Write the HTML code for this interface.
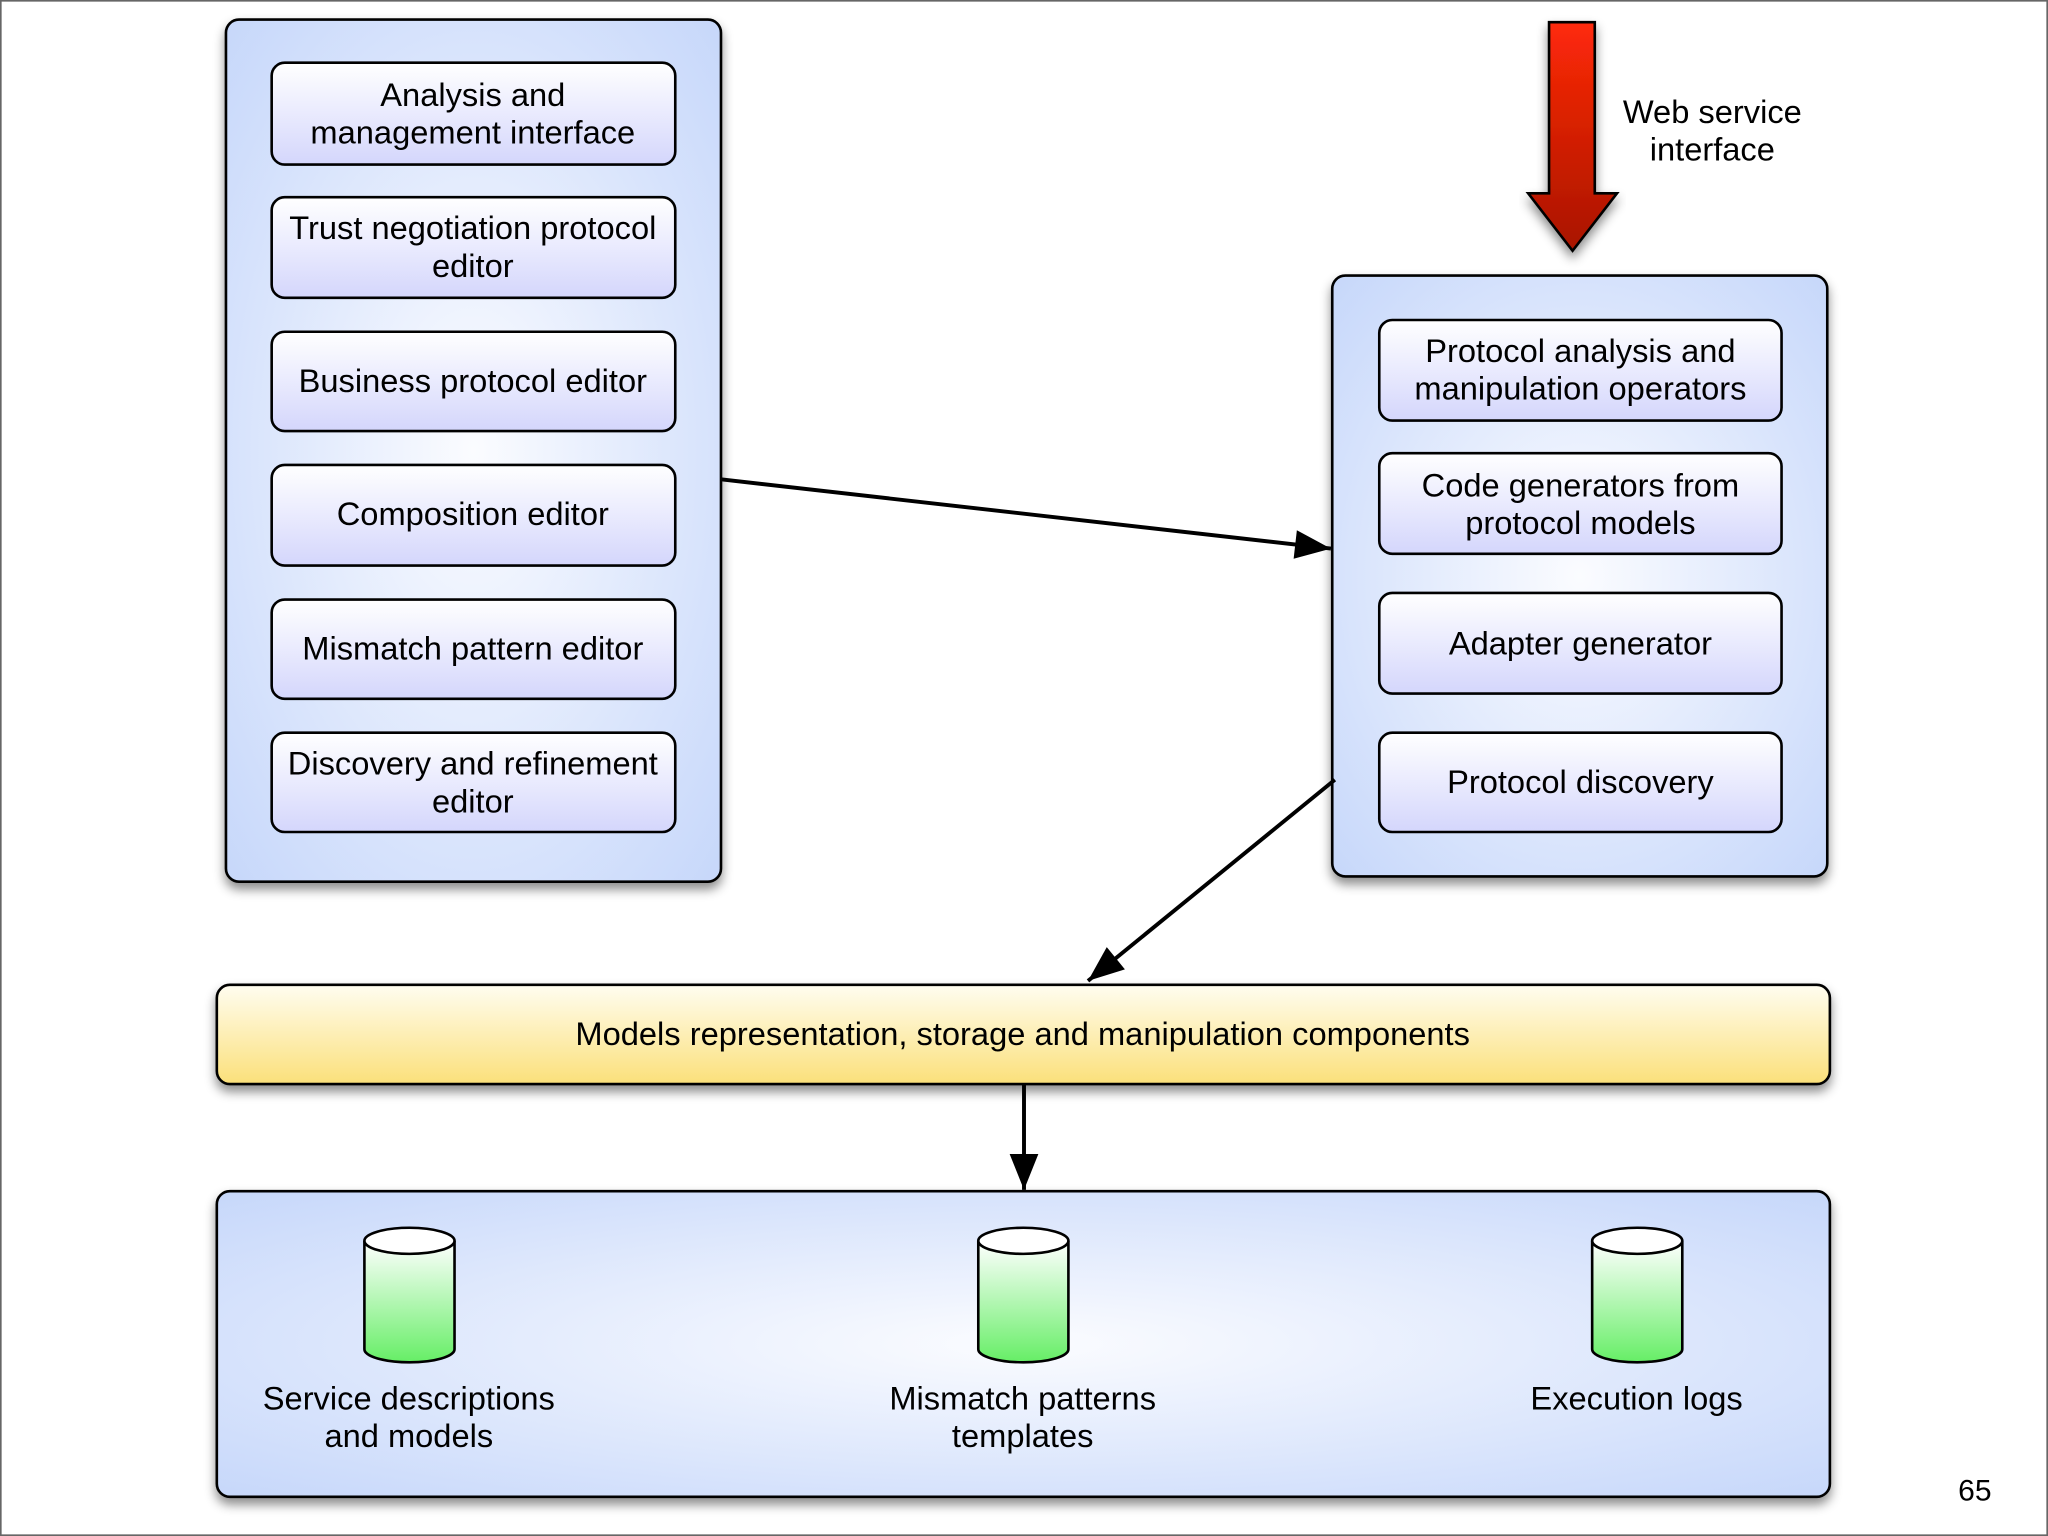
<!DOCTYPE html>
<html><head><meta charset="utf-8"><style>
html,body{margin:0;padding:0;background:#fff;}
svg{display:block;}
text{font-family:"Liberation Sans",sans-serif;font-size:25px;fill:#000;text-anchor:middle;}
</style></head><body>
<svg width="2048" height="1536" viewBox="0 0 1568 1176" xmlns="http://www.w3.org/2000/svg">
<defs>
<radialGradient id="pan" cx="50%" cy="50%" r="75%">
<stop offset="0" stop-color="#fbfcff"/><stop offset="1" stop-color="#c3d5fa"/></radialGradient>
<linearGradient id="box" x1="0" y1="0" x2="0" y2="1">
<stop offset="0" stop-color="#ffffff"/><stop offset="1" stop-color="#d4d6fc"/></linearGradient>
<linearGradient id="yel" x1="0" y1="0" x2="0" y2="1">
<stop offset="0" stop-color="#fffdf0"/><stop offset="1" stop-color="#fbe07a"/></linearGradient>
<linearGradient id="red" x1="0" y1="0" x2="0" y2="1">
<stop offset="0" stop-color="#ff2a08"/><stop offset="1" stop-color="#a81400"/></linearGradient>
<linearGradient id="grn" x1="0" y1="0" x2="0" y2="1">
<stop offset="0" stop-color="#ffffff"/><stop offset="1" stop-color="#66ee66"/></linearGradient>
<filter id="sh" x="-10%" y="-10%" width="120%" height="130%"><feDropShadow dx="0" dy="5" stdDeviation="4" flood-color="#000" flood-opacity="0.45"/></filter>
<marker id="ah2" viewBox="0 0 10 8" refX="10" refY="4" markerWidth="28" markerHeight="22" orient="auto" markerUnits="userSpaceOnUse"><path d="M0,0 L10,4 L0,8 z" fill="#000"/></marker>
</defs>
<rect x="0.5" y="0.5" width="1567" height="1175" fill="#fff" stroke="#666" stroke-width="1.5"/>

<rect x="173" y="15" width="379" height="660" rx="10" fill="url(#pan)" stroke="#000" stroke-width="2" filter="url(#sh)"/>
<g fill="url(#box)" stroke="#000" stroke-width="2">
<rect x="208" y="48" width="309" height="78" rx="10"/>
<rect x="208" y="151" width="309" height="77" rx="10"/>
<rect x="208" y="254" width="309" height="76" rx="10"/>
<rect x="208" y="356" width="309" height="77" rx="10"/>
<rect x="208" y="459" width="309" height="76" rx="10"/>
<rect x="208" y="561" width="309" height="76" rx="10"/>
</g>
<text x="362" y="81">Analysis and</text><text x="362" y="110">management interface</text>
<text x="362" y="183">Trust negotiation protocol</text><text x="362" y="212">editor</text>
<text x="362" y="300">Business protocol editor</text>
<text x="362" y="402">Composition editor</text>
<text x="362" y="505">Mismatch pattern editor</text>
<text x="362" y="593">Discovery and refinement</text><text x="362" y="622">editor</text>

<rect x="1020" y="211" width="379" height="460" rx="10" fill="url(#pan)" stroke="#000" stroke-width="2" filter="url(#sh)"/>
<g fill="url(#box)" stroke="#000" stroke-width="2">
<rect x="1056" y="245" width="308" height="77" rx="10"/>
<rect x="1056" y="347" width="308" height="77" rx="10"/>
<rect x="1056" y="454" width="308" height="77" rx="10"/>
<rect x="1056" y="561" width="308" height="76" rx="10"/>
</g>
<text x="1210" y="277">Protocol analysis and</text><text x="1210" y="306">manipulation operators</text>
<text x="1210" y="380">Code generators from</text><text x="1210" y="409">protocol models</text>
<text x="1210" y="501">Adapter generator</text>
<text x="1210" y="607">Protocol discovery</text>

<path d="M1186,17 H1221 V148 H1238 L1204,192 L1170,148 H1186 Z" fill="url(#red)" stroke="#000" stroke-width="2" filter="url(#sh)"/>
<text x="1311" y="94">Web service</text><text x="1311" y="123">interface</text>

<line x1="552" y1="367" x2="1019" y2="420" stroke="#000" stroke-width="3" marker-end="url(#ah2)"/>
<line x1="1022" y1="597" x2="833" y2="751" stroke="#000" stroke-width="3" marker-end="url(#ah2)"/>

<rect x="166" y="754" width="1235" height="76" rx="10" fill="url(#yel)" stroke="#000" stroke-width="2" filter="url(#sh)"/>
<text x="783" y="800">Models representation, storage and manipulation components</text>

<line x1="784" y1="830" x2="784" y2="911" stroke="#000" stroke-width="3" marker-end="url(#ah2)"/>

<rect x="166" y="912" width="1235" height="234" rx="10" fill="url(#pan)" stroke="#000" stroke-width="2" filter="url(#sh)"/>
<g stroke="#000" stroke-width="2">
<path d="M279,950 V1033 A34.5,10 0 0 0 348,1033 V950" fill="url(#grn)"/><ellipse cx="313.5" cy="950" rx="34.5" ry="10" fill="#fff"/>
<path d="M749,950 V1033 A34.5,10 0 0 0 818,1033 V950" fill="url(#grn)"/><ellipse cx="783.5" cy="950" rx="34.5" ry="10" fill="#fff"/>
<path d="M1219,950 V1033 A34.5,10 0 0 0 1288,1033 V950" fill="url(#grn)"/><ellipse cx="1253.5" cy="950" rx="34.5" ry="10" fill="#fff"/>
</g>
<text x="313" y="1079">Service descriptions</text><text x="313" y="1108">and models</text>
<text x="783" y="1079">Mismatch patterns</text><text x="783" y="1108">templates</text>
<text x="1253" y="1079">Execution logs</text>
<text x="1512" y="1149" style="font-size:23px">65</text>
</svg>
</body></html>
